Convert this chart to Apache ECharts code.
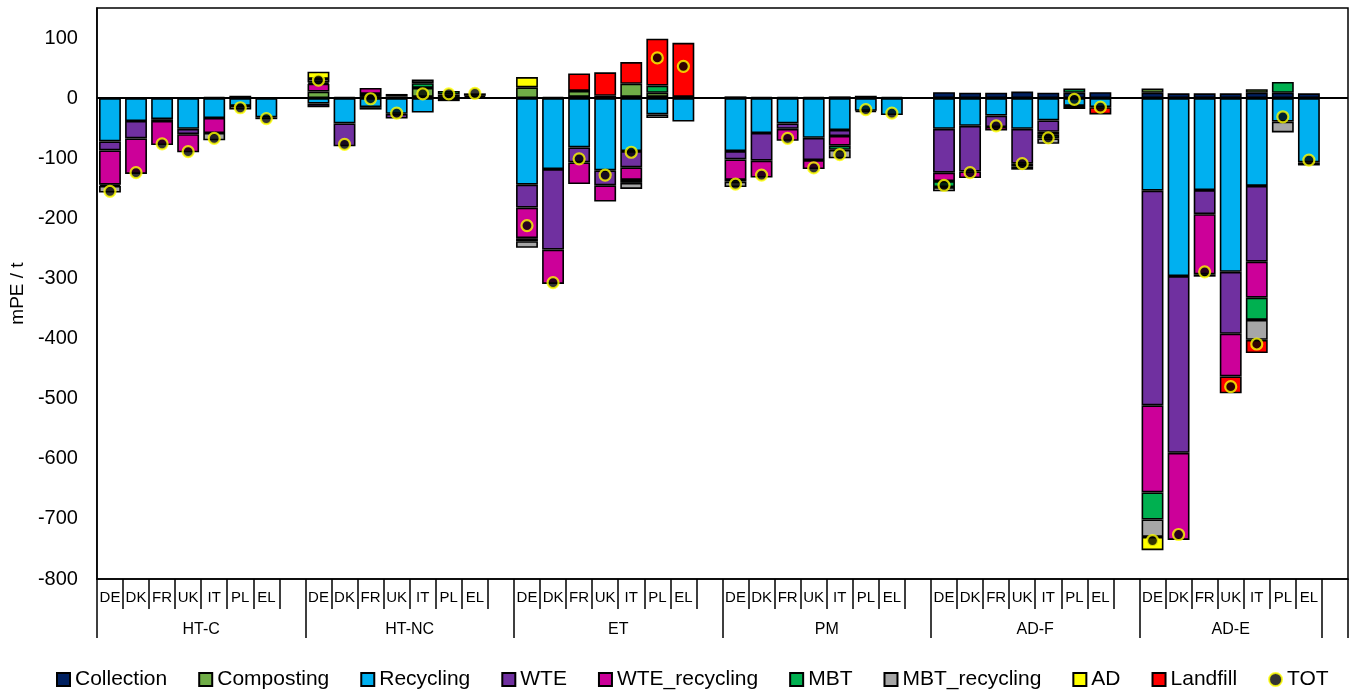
<!DOCTYPE html>
<html>
<head>
<meta charset="utf-8">
<script src="https://cdn.jsdelivr.net/npm/echarts@6/dist/echarts.min.js"></script>
<style>
html,body{margin:0;padding:0;background:#fff;}
#chart{width:1354px;height:690px;}
</style>
</head>
<body>
<div id="chart"></div>
<script>
// ---- Data ----
const groups = ['HT-C', 'HT-NC', 'ET', 'PM', 'AD-F', 'AD-E'];
const countries = ['DE', 'DK', 'FR', 'UK', 'IT', 'PL', 'EL'];
const yTicks = [-800, -700, -600, -500, -400, -300, -200, -100, 0, 100];

// values per group, in country order DE DK FR UK IT PL EL
const collection = [
  0, 0, 0, 0, 2, 1, 0,
  0, 2, 2, 3, 2, 2, 2,
  0, 2, 2, 4, 2, 2, 2,
  3, 2, 2, 2, 3, 4, 2,
  10, 9, 9, 11, 9, 9, 10,
  9, 8, 8, 8, 9, 9, 8
];
const composting = [
  0, 0, 0, 0, 0, 0, 0,
  11, 0, 5, 0, 15, 4, 2,
  18, 0, 10, 0, 22, 7, 0,
  0, 0, 0, 0, 0, 0, 0,
  0, 0, 0, 0, 0, 0, 0,
  7, 0, 0, 0, 6, 0, 0
];
const recycling = [
  -72, -38, -35, -51, -33, -13, -32,
  -9, -42, -15, -26, -24, -5, 4,
  -144, -118, -82, -120, -88, -27, -39,
  -88, -58, -42, -66, -53, -21, -28,
  -51, -46, -29, -51, -37, -13, -15,
  -154, -296, -153, -289, -146, -39, -107
];
const wte = [
  -15, -29, -3, -9, 0, 0, 0,
  -6, -38, -4, -8, 0, 0, 0,
  -38, -134, -25, -25, -27, 0, 0,
  -14, -46, -9, -37, -10, 0, 0,
  -73, -76, -19, -58, -19, 0, 0,
  -357, -294, -40, -103, -126, 0, 0
];
const wteRecycling = [
  -57, -59, -40, -30, -25, 0, 0,
  13, 0, 10, 0, 0, 0, 0,
  -51, -57, -36, -27, -21, 0, 0,
  -34, -28, -20, -15, -16, 0, 0,
  -14, -11, -6, -5, -5, 0, 0,
  -145, -145, -100, -71, -60, 0, 0
];
const mbt = [
  -2, 0, 0, 0, 0, 3, 0,
  2, 0, 0, 4, 8, 6, 0,
  -5, 0, 0, 0, -5, 12, 0,
  -3, 0, 0, 0, -7, -2, 0,
  -10, 0, 0, 0, -6, 7, 0,
  -45, 0, 0, 0, -37, 18, 0
];
const mbtRecycling = [
  -11, 0, 0, 0, -12, -6, 0,
  6, 0, 0, 0, 6, 0, 0,
  -11, 0, 0, 0, -10, -6, 0,
  -9, 0, 0, 0, -14, 0, 0,
  -7, 0, 0, 0, -9, 0, 0,
  -29, 0, 0, 0, -33, -18, 0
];
const ad = [
  0, 0, 0, 0, 0, 0, 0,
  12, 0, 0, 0, 0, 0, 0,
  17, 0, 0, 0, 0, 0, 0,
  0, 0, 0, 0, 0, 0, 0,
  0, 0, 0, 0, 0, 0, 0,
  -22, 0, 0, 0, 0, 0, 0
];
const landfill = [
  0, 0, 0, 0, 0, 0, -3,
  0, 0, 0, 0, 0, 0, 0,
  0, 0, 29, 39, 36, 78, 90,
  0, 0, 0, 0, 0, 0, 0,
  0, 0, 0, -5, 0, -5, -12,
  0, 0, -4, -28, -22, 0, -5
];
const tot = [
  -155, -124, -76, -89, -67, -16, -34,
  30, -77, -1, -25, 7, 7, 8,
  -212, -307, -101, -128, -90, 67, 53,
  -143, -128, -67, -116, -94, -19, -25,
  -145, -124, -46, -109, -66, -2, -15,
  -736, -726, -289, -480, -409, -31, -103
];

const seriesDefs = [
  ['Collection', collection, '#002060'],
  ['Composting', composting, '#70AD47'],
  ['Recycling', recycling, '#00B0F0'],
  ['WTE', wte, '#7030A0'],
  ['WTE_recycling', wteRecycling, '#CC0099'],
  ['MBT', mbt, '#00B050'],
  ['MBT_recycling', mbtRecycling, '#A6A6A6'],
  ['AD', ad, '#FFFF00'],
  ['Landfill', landfill, '#FF0000']
];

// ---- Build category layout: 7 countries + one blank slot per group ----
const categories = [];
groups.forEach(() => { countries.forEach(c => categories.push(c)); categories.push(''); });
function expand(arr, zeroAsGap) {
  const out = [];
  groups.forEach((g, gi) => {
    countries.forEach((c, ci) => {
      const v = arr[gi * countries.length + ci];
      out.push(zeroAsGap && v === 0 ? '-' : v);
    });
    out.push('-');
  });
  return out;
}
const slotsPerGroup = countries.length + 1;
const groupTickPos = [];
const groupLabelPos = [];
groups.forEach((g, gi) => {
  const start = gi * slotsPerGroup;
  const count = gi === groups.length - 1 ? countries.length : slotsPerGroup;
  groupTickPos.push(start);
  groupLabelPos.push(start + count / 2);
  if (gi === groups.length - 1) { groupTickPos.push(start + count); groupTickPos.push(categories.length); }
});

const FONT = 'Liberation Sans, Arial, sans-serif';
const series = seriesDefs.map(([name, arr, color], i) => {
  const s = {
    name, type: 'bar', stack: 'total', xAxisIndex: 0, yAxisIndex: 0,
    data: expand(arr, true), barWidth: '84%',
    itemStyle: { color, borderColor: '#000', borderWidth: 1.6 },
    emphasis: { disabled: true }
  };
  if (i === seriesDefs.length - 1) {
    s.markLine = {
      silent: true, symbol: 'none', label: { show: false },
      lineStyle: { color: '#000', width: 2, type: 'solid' },
      data: [{ yAxis: 0 }]
    };
  }
  return s;
});
series.push({
  name: 'TOT', type: 'scatter', xAxisIndex: 0, yAxisIndex: 0,
  data: expand(tot, false), symbol: 'circle', symbolSize: 11, z: 5,
  itemStyle: { color: '#000', borderColor: '#FFFF00', borderWidth: 2.2 },
  emphasis: { disabled: true }
});

const chart = echarts.init(document.getElementById('chart'), null, { renderer: 'canvas' });
chart.setOption({
  animation: false,
  backgroundColor: '#fff',
  textStyle: { fontFamily: FONT, color: '#000' },
  grid: { left: 96, right: 6, top: 8, bottom: 111, show: true, borderColor: '#000', borderWidth: 1.5, backgroundColor: 'transparent' },
  legend: {
    left: 51, top: 664, itemWidth: 13, itemHeight: 13, itemGap: 31, icon: 'rect',
    textStyle: { fontSize: 21, color: '#000', fontFamily: FONT },
    data: seriesDefs.map(d => d[0]).concat([{ name: 'TOT', icon: 'circle' }])
  },
  xAxis: [
    {
      type: 'category', data: categories, position: 'bottom', boundaryGap: true,
      axisLine: { show: true, onZero: false, lineStyle: { color: '#000', width: 1.5 } },
      axisTick: { show: true, interval: 0, length: 30, lineStyle: { color: '#000', width: 1.5 } },
      axisLabel: { interval: 0, fontSize: 15, color: '#000', margin: 11, fontFamily: FONT },
      splitLine: { show: false }
    },
    {
      type: 'value', min: 0, max: categories.length, position: 'bottom', offset: 0,
      axisLine: { show: false, onZero: false },
      axisTick: { show: true, length: 59, customValues: groupTickPos, lineStyle: { color: '#000', width: 1.5 } },
      axisLabel: {
        show: true, customValues: groupLabelPos, fontSize: 16, color: '#000', margin: 43, fontFamily: FONT,
        formatter: v => { const i = groupLabelPos.indexOf(v); return i >= 0 ? groups[i] : ''; }
      },
      splitLine: { show: false }
    }
  ],
  yAxis: {
    type: 'value', min: yTicks[0], max: 150, interval: 100,
    name: 'mPE / t', nameLocation: 'middle', nameRotate: 90, nameGap: 68,
    nameTextStyle: { fontSize: 19, color: '#000', fontFamily: FONT },
    axisLine: { show: true, lineStyle: { color: '#000', width: 1.5 } },
    axisTick: { show: false },
    axisLabel: { fontSize: 20, color: '#000', margin: 19, showMaxLabel: false, fontFamily: FONT,
      formatter: v => (yTicks.indexOf(v) >= 0 ? String(v) : '') },
    splitLine: { show: false }
  },
  series
});
</script>
</body>
</html>
